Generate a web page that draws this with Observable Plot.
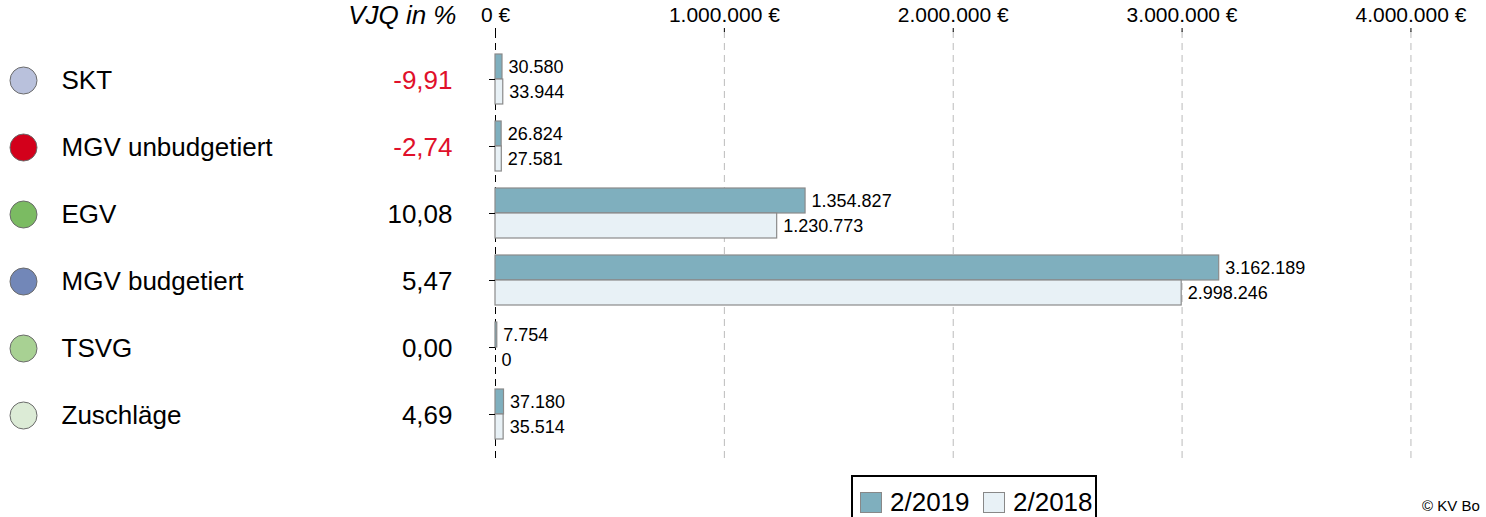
<!DOCTYPE html>
<html>
<head>
<meta charset="utf-8">
<script src="https://cdn.jsdelivr.net/npm/d3@7"></script>
<script src="https://cdn.jsdelivr.net/npm/@observablehq/plot@0.6"></script>
<style>
  html, body { margin: 0; padding: 0; background: #fff; overflow: hidden; }
  body { width: 1486px; height: 517px; position: relative; font-family: "Liberation Sans", Arial, sans-serif; }
  #legend { position: absolute; left: 851px; top: 475px; width: 242px; height: 60px; border: 2px solid #000; box-sizing: content-box; font-size: 26px; }
  #legend .item { position: absolute; top: 10px; display: flex; align-items: center; }
  #legend .sw { width: 20px; height: 19px; border: 1.5px solid #888; margin-right: 8px; }
  #copy { position: absolute; left: 1422px; top: 497px; font-size: 15px; white-space: nowrap; color: #000; }
</style>
</head>
<body>
<div id="chart"></div>
<div id="legend"></div>
<div id="copy">© KV Bo</div>
<script>
const categories = ["SKT", "MGV unbudgetiert", "EGV", "MGV budgetiert", "TSVG", "Zuschläge"];
const values2019 = [30580, 26824, 1354827, 3162189, 7754, 37180];
const values2018 = [33944, 27581, 1230773, 2998246, 0, 35514];
const vjq = [-9.91, -2.74, 10.08, 5.47, 0.00, 4.69];
const dotColors = ["#b9c1dc", "#d3001b", "#7bbb62", "#7287b8", "#a8d193", "#dcebd6"];
const xTicks = [0, 1000000, 2000000, 3000000, 4000000];
const seriesNames = ["2/2019", "2/2018"];
const seriesColors = ["#7fafbe", "#e8f1f6"];

const de = d3.formatLocale({decimal: ",", thousands: ".", grouping: [3], currency: ["", " €"], minus: "-"});
const fmtInt = de.format(",d");
const fmtPct = de.format(".2f");

const data = categories.map((c, i) => ({cat: c, v19: values2019[i], v18: values2018[i], vjq: vjq[i]}));
const font = "Liberation Sans, Arial, sans-serif";

const chart = Plot.plot({
  width: 1486,
  height: 472,
  marginLeft: 495,
  marginRight: 41,
  marginTop: 31,
  marginBottom: 10,
  style: {fontFamily: font, background: "white", color: "black"},
  x: {domain: [0, 4151000]},
  y: {domain: categories, type: "band", paddingInner: 0.26, paddingOuter: 0.326},
  color: {domain: categories, range: dotColors},
  marks: [
    Plot.gridX(xTicks.slice(1), {stroke: "#bbb", strokeOpacity: 1, strokeDasharray: "7,5"}),
    Plot.ruleX([0], {stroke: "#000", strokeDasharray: "7,5"}),
    Plot.barX(data, {x: "v19", y: "cat", fill: seriesColors[0], stroke: "#8a8a8a", strokeWidth: 1.2, insetBottom: 25}),
    Plot.barX(data, {x: "v18", y: "cat", fill: seriesColors[1], stroke: "#8a8a8a", strokeWidth: 1.2, insetTop: 25}),
    Plot.text(data, {x: "v19", y: "cat", text: d => fmtInt(d.v19), dy: -12.5, dx: 6, textAnchor: "start", fontSize: 18, fill: "#000"}),
    Plot.text(data, {x: "v18", y: "cat", text: d => fmtInt(d.v18), dy: 12.5, dx: 6, textAnchor: "start", fontSize: 18, fill: "#000"}),
    Plot.axisX(xTicks, {anchor: "top", tickSize: 4, tickPadding: 6, tickFormat: d => fmtInt(d) + " €", fontSize: 21, line: true, stroke: "#000", label: null}),
    Plot.axisY({anchor: "left", tickSize: 6, tickFormat: () => "", label: null, stroke: "#000"}),
    Plot.dot(data, {y: "cat", frameAnchor: "left", dx: -472, dy: 1, r: 13.5, fill: "cat", stroke: "#6b6b6b", strokeWidth: 1}),
    Plot.text(data, {y: "cat", text: "cat", frameAnchor: "left", dx: -434, dy: 1, textAnchor: "start", fontSize: 26, fill: "#000"}),
    Plot.text(data.filter(d => d.vjq < 0), {y: "cat", text: d => fmtPct(d.vjq), frameAnchor: "left", dx: -43, dy: 1, textAnchor: "end", fontSize: 26, fill: "#e0102a"}),
    Plot.text(data.filter(d => d.vjq >= 0), {y: "cat", text: d => fmtPct(d.vjq), frameAnchor: "left", dx: -43, dy: 1, textAnchor: "end", fontSize: 26, fill: "#000"}),
    Plot.text(["VJQ in %"], {frameAnchor: "top-left", lineAnchor: "middle", dx: -39, dy: -16, textAnchor: "end", fontSize: 26, fontStyle: "italic", fill: "#000"})
  ]
});
document.getElementById("chart").appendChild(chart);

const legend = document.getElementById("legend");
const lefts = [7, 130];
seriesNames.forEach((name, i) => {
  const item = document.createElement("div");
  item.className = "item";
  item.style.left = lefts[i] + "px";
  const sw = document.createElement("div");
  sw.className = "sw";
  sw.style.background = seriesColors[i];
  const t = document.createElement("span");
  t.textContent = name;
  item.appendChild(sw);
  item.appendChild(t);
  legend.appendChild(item);
});
</script>
</body>
</html>
